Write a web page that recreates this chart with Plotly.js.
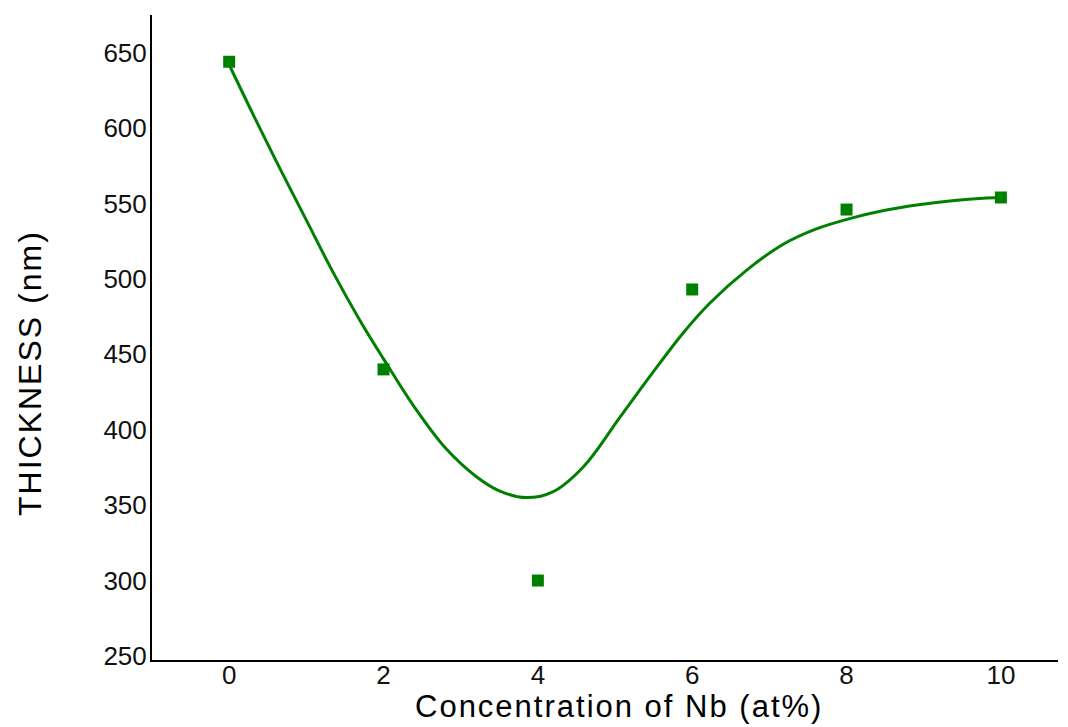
<!DOCTYPE html>
<html>
<head>
<meta charset="utf-8">
<script src="https://cdn.plot.ly/plotly-3.0.1.min.js"></script>
<style>
html,body{margin:0;padding:0;background:#fff;}
#chart{width:1068px;height:727px;}
.annotation-text{letter-spacing:2px;}
</style>
</head>
<body>
<div id="chart"></div>
<script>
var concentration = [0, 2, 4, 6, 8, 10];
var thickness = [644, 440, 300, 493, 546, 554];

var fitX = [0, 0.32, 0.66, 1.01, 1.35, 1.7, 2.0, 2.4, 2.8, 3.2, 3.5, 3.85, 4.2, 4.6, 5.06, 5.49, 5.88, 6.23, 6.71, 7.18, 7.6, 8.04, 8.5, 8.91, 9.4, 9.77, 10];
var fitY = [642, 608, 573, 538, 504, 472, 447, 415, 388, 369, 359.5, 355, 359, 376, 408, 438, 464, 484, 506, 523, 533, 540, 545.5, 549, 552, 553.5, 554];

var xTicks = [0, 2, 4, 6, 8, 10];
var yTicks = [250, 300, 350, 400, 450, 500, 550, 600, 650];
var xTitle = 'Concentration of Nb (at%)';
var yTitle = 'THICKNESS (nm)';

var green = '#008000';
var traces = [
  {x: fitX, y: fitY, type: 'scatter', mode: 'lines', line: {color: green, width: 3, shape: 'spline', smoothing: 1}, hoverinfo: 'skip'},
  {x: concentration, y: thickness, type: 'scatter', mode: 'markers', marker: {symbol: 'square', size: 12, color: green}}
];

// plot area: left 152, right 1058, top 15, bottom 660
var plotW = 906, plotH = 645;
var layout = {
  width: 1068, height: 727,
  margin: {l: 152, r: 10, t: 15, b: 67},
  paper_bgcolor: '#fff', plot_bgcolor: '#fff',
  showlegend: false,
  font: {family: 'Liberation Sans, Arial, sans-serif', color: '#111'},
  xaxis: {
    range: [-1.0, 10.74], tickvals: xTicks, ticktext: xTicks.map(String),
    showgrid: false, zeroline: false, showline: true, linecolor: '#000', linewidth: 2,
    ticks: '', tickfont: {size: 26, color: '#111'}, ticklabelstandoff: -9
  },
  yaxis: {
    range: [247.3, 675], tickvals: yTicks, ticktext: yTicks.map(String),
    showgrid: false, zeroline: false, showline: true, linecolor: '#000', linewidth: 2,
    ticks: '', tickfont: {size: 26, color: '#111'}, ticklabelstandoff: -2
  },
  annotations: [
    {text: xTitle, xref: 'paper', yref: 'paper', x: (619 - 152) / plotW, y: (660 - 706) / plotH,
     xanchor: 'center', yanchor: 'middle', showarrow: false, borderpad: 0, font: {size: 31, color: '#000'}},
    {text: yTitle, xref: 'paper', yref: 'paper', x: (30 - 152) / plotW, y: (660 - 373) / plotH,
     xanchor: 'center', yanchor: 'middle', showarrow: false, textangle: -90, font: {size: 32, color: '#000'}}
  ]
};

Plotly.newPlot('chart', traces, layout, {displayModeBar: false, staticPlot: true});
</script>
</body>
</html>
